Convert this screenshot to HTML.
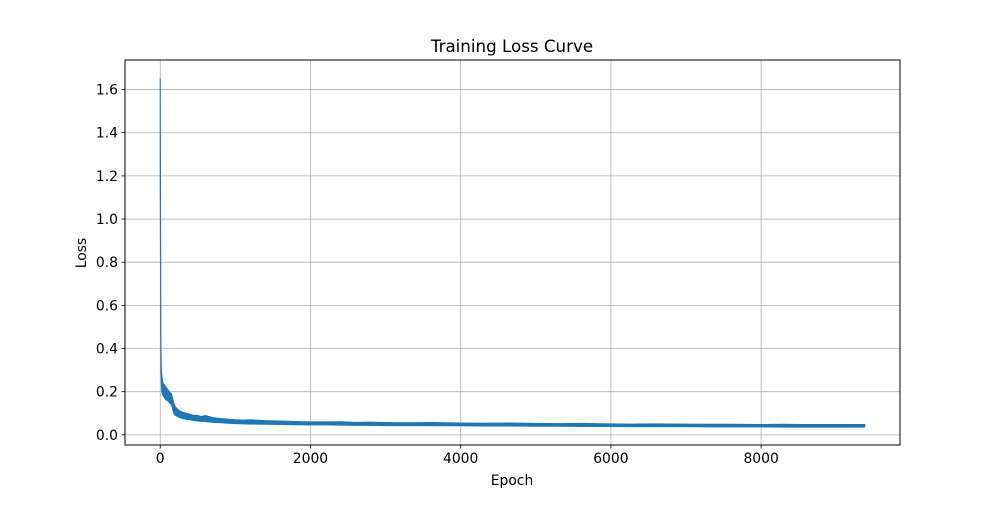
<!DOCTYPE html>
<html><head><meta charset="utf-8">
<style>
body{margin:0;background:#fff;}
svg text{font-family:"DejaVu Sans","Liberation Sans",sans-serif;fill:#000;}
</style></head>
<body>
<svg id="chart" width="1000" height="500" xmlns="http://www.w3.org/2000/svg">
<rect width="1000" height="500" fill="#fff"/>
<g id="grid"></g>
<g id="series"></g>
<rect x="125" y="60" width="775" height="385" fill="none" stroke="#000" stroke-width="1"/>
<g id="ticks"></g>
<text x="512" y="52" text-anchor="middle" font-size="16.7">Training Loss Curve</text>
<text x="512" y="485" text-anchor="middle" font-size="13.9">Epoch</text>
<text x="86" y="253" text-anchor="middle" font-size="13.9" transform="rotate(-90 86 253)">Loss</text>
</svg>
<script>
const xTicks=[0,2000,4000,6000,8000];
const yTicks=[0.0,0.2,0.4,0.6,0.8,1.0,1.2,1.4,1.6];
const yTickLabels=["0.0","0.2","0.4","0.6","0.8","1.0","1.2","1.4","1.6"];
const epochs=[0,3,6,10,15,20,30,40,60,80,100,120,150,180,200,230,260,300,350,400,450,500,550,600,700,800,900,1000,1100,1200,1400,1600,1800,2000,2200,2400,2600,2800,3000,3300,3600,4000,4300,4600,5000,5300,5600,6000,6300,6600,7000,7300,7600,8000,8300,8600,9000,9380];
const lossHi=[1.65,1.3,0.8,0.4,0.3,0.28,0.25,0.24,0.23,0.22,0.21,0.2,0.19,0.15,0.13,0.12,0.11,0.105,0.1,0.095,0.09,0.09,0.085,0.09,0.08,0.076,0.073,0.07,0.068,0.07,0.066,0.064,0.062,0.06,0.06,0.061,0.058,0.059,0.057,0.056,0.057,0.055,0.054,0.055,0.053,0.052,0.053,0.051,0.05,0.051,0.05,0.049,0.049,0.048,0.049,0.048,0.048,0.048];
const lossLo=[1.2,0.9,0.5,0.3,0.24,0.2,0.19,0.18,0.17,0.16,0.16,0.15,0.14,0.1,0.09,0.085,0.08,0.075,0.072,0.07,0.066,0.064,0.062,0.062,0.058,0.056,0.054,0.052,0.051,0.05,0.049,0.048,0.047,0.046,0.046,0.045,0.044,0.044,0.043,0.043,0.042,0.042,0.041,0.041,0.04,0.04,0.039,0.039,0.038,0.038,0.038,0.037,0.037,0.037,0.036,0.036,0.036,0.036];
const X0=125,X1=900,Y0=60,Y1=445;
const xMin=-469,xMax=9849,yMin=-0.047,yMax=1.737;
const sx=v=>X0+(v-xMin)/(xMax-xMin)*(X1-X0);
const sy=v=>Y1-(v-yMin)/(yMax-yMin)*(Y1-Y0);
const NS="http://www.w3.org/2000/svg";
const grid=document.getElementById('grid'),ticks=document.getElementById('ticks'),series=document.getElementById('series');
function mk(tag,attrs,parent){const e=document.createElementNS(NS,tag);for(const k in attrs)e.setAttribute(k,attrs[k]);parent.appendChild(e);return e;}
xTicks.forEach(t=>{const x=sx(t);
 const g=mk('line',{x1:x,x2:x,y1:Y0,y2:Y1,stroke:'#b0b0b0','stroke-width':0.8},grid);
 
 const tk=mk('line',{x1:x,x2:x,y1:Y1,y2:Y1+3.5,stroke:'#000','stroke-width':0.8},ticks);
 
 const tx=mk('text',{x:x,y:Y1+18,'text-anchor':'middle','font-size':13.9},ticks);tx.textContent=String(t);
 });
yTicks.forEach((t,i)=>{const y=sy(t);
 const g=mk('line',{x1:X0,x2:X1,y1:y,y2:y,stroke:'#b0b0b0','stroke-width':0.8},grid);
 
 const tk=mk('line',{x1:X0-3.5,x2:X0,y1:y,y2:y,stroke:'#000','stroke-width':0.8},ticks);
 
 const tx=mk('text',{x:X0-7,y:y+5,'text-anchor':'end','font-size':13.9},ticks);tx.textContent=yTickLabels[i];
 });
let d='';
epochs.forEach((e,i)=>{d+=(i?'L':'M')+sx(e).toFixed(2)+','+sy(lossHi[i]).toFixed(2);});
for(let i=epochs.length-1;i>=0;i--){d+='L'+sx(epochs[i]).toFixed(2)+','+sy(lossLo[i]).toFixed(2);}
d+='Z';
const band=mk('path',{d:d,fill:'#1f77b4',stroke:'#1f77b4','stroke-width':1,'stroke-linejoin':'round'},series);


</script>
</body></html>
